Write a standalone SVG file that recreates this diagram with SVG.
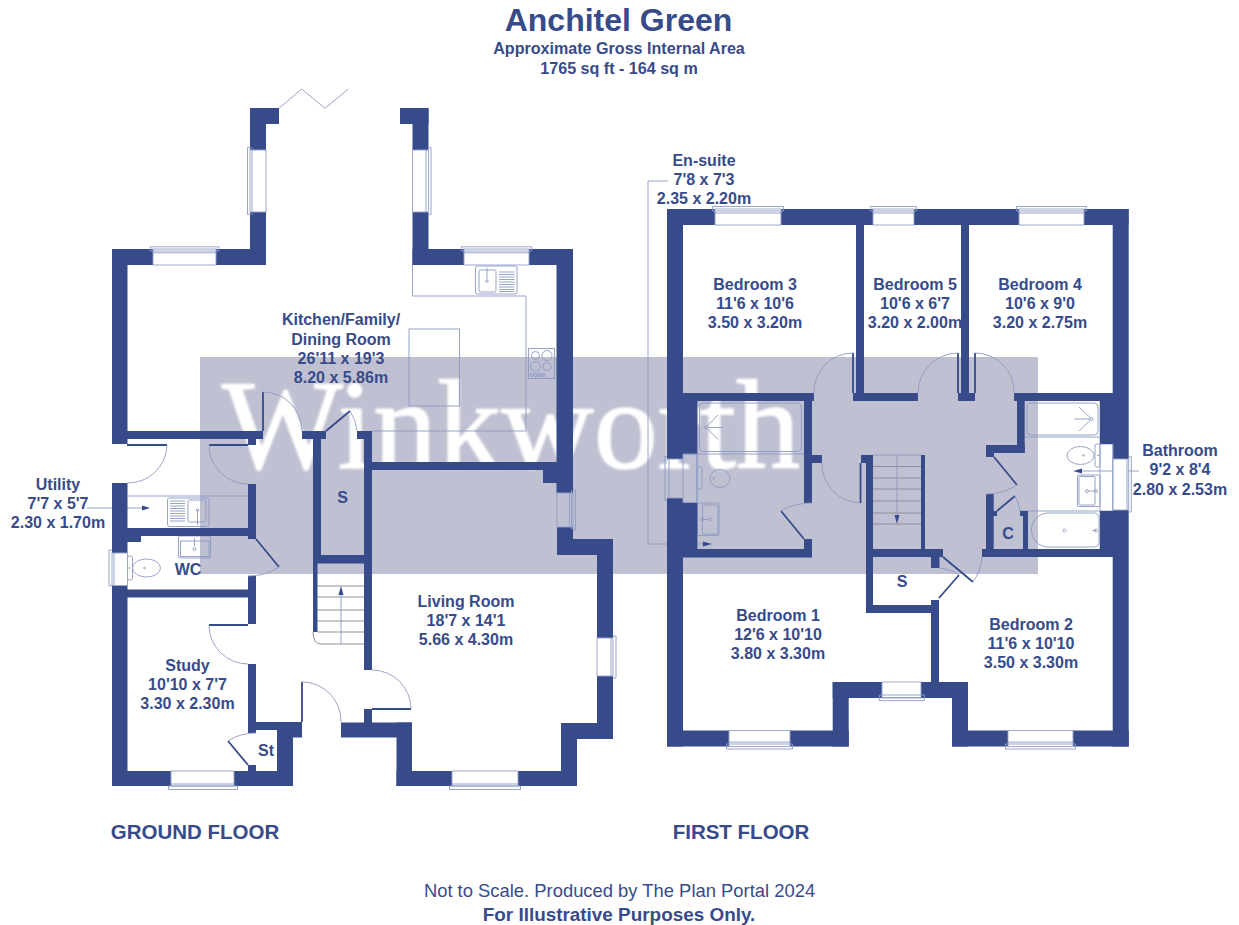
<svg xmlns="http://www.w3.org/2000/svg" width="1239" height="925" viewBox="0 0 1239 925">
<style>
.w{fill:#374b8b}
.wl{fill:#fff;stroke:#93a0c8;stroke-width:.9}
.wn{fill:none;stroke:#93a0c8;stroke-width:.9}
.l{fill:none;stroke:#8d9ac4;stroke-width:.9}
.d{fill:none;stroke:#374b8b;stroke-width:1.8}
.g{fill:none;stroke:#8f8f9a;stroke-width:1}
.a{fill:#374b8b}
text{font-family:"Liberation Sans",Arial,sans-serif;fill:#374b8b;font-weight:700;font-size:16px;text-anchor:middle}
</style>
<defs>
<filter id="bl" x="-5%" y="-5%" width="110%" height="110%"><feGaussianBlur stdDeviation="1.3"/></filter>
</defs>
<rect width="1239" height="925" fill="#fff"/>
<g id="watermark">
<rect x="200" y="357" width="838" height="217" fill="#bfc0d1"/>
<text x="222" y="468" filter="url(#bl)" style="font-family:'Liberation Serif',serif;font-weight:400;font-size:128px;text-anchor:start;fill:#fff;stroke:#fff;stroke-width:1.6">Winkworth</text>
</g>
<g id="ground-floor-fittings">
<path class="l" d="M412.500 265V296H526V431H372"/>
<rect class="l" x="409" y="329" width="50.500" height="77"/>
<g id="kitchen-sink"><rect class="l" x="475.500" y="266" width="41.500" height="28" rx="2"/><rect class="l" x="479" y="270" width="17" height="22" rx="1.500"/><path class="l" d="M499 272h15.500M499 274.500h15.500M499 277h15.500M499 279.500h15.500M499 282h15.500M499 284.500h15.500M499 287h15.500M499 289.500h15.500M499 291.500h15.500M487 268v11"/><circle class="l" cx="487" cy="281" r="1.200"/></g>
<g id="hob"><rect class="l" x="528.500" y="348.500" width="26" height="30"/><circle class="l" cx="535.500" cy="355.500" r="4"/><circle class="l" cx="547" cy="355.500" r="5"/><circle class="l" cx="535.500" cy="366.500" r="5"/><circle class="l" cx="547" cy="366.500" r="4"/><circle class="l" cx="532" cy="375" r="1.500"/><circle class="l" cx="535" cy="375" r="1.500"/><circle class="l" cx="538" cy="375" r="1.500"/><circle class="l" cx="541" cy="375" r="1.500"/><circle class="l" cx="544" cy="375" r="1.500"/></g>
<path class="l" d="M127 496H248"/>
<g id="utility-sink"><rect class="l" x="167.500" y="498" width="41.500" height="28.500" rx="2"/><rect class="l" x="188" y="500" width="18" height="22" rx="1.500"/><path class="l" d="M170 501h15M170 503.500h15M170 506h15M170 508.500h15M170 511h15M170 513.500h15M170 516h15M170 518.500h15M170 521h15M197.500 510v15"/><circle class="l" cx="197.500" cy="510" r="1.200"/></g>
<g id="utility-leader"><path class="l" d="M87 508H142"/><path class="a" d="M142 505.500L150 508L142 510.500z"/></g>
<g id="wc-basin"><rect class="l" x="178.500" y="536" width="32" height="22" rx="1.500"/><rect class="l" x="180.500" y="541" width="28.500" height="15.500"/><path class="l" d="M194.500 538v8"/><circle class="l" cx="194.500" cy="549" r="1.500"/></g>
<g id="wc-toilet"><rect class="l" x="127.500" y="556" width="5" height="24" rx="2"/><ellipse class="l" cx="146.500" cy="568" rx="14" ry="9"/><circle class="l" cx="144.500" cy="568" r=".8"/><circle class="l" cx="129.500" cy="568" r=".6"/></g>
</g>
<g id="stairs-ground">
<path class="g" d="M317.500 586H364M317.500 597H364M317.500 610H364M317.500 621H364M317.500 632H364M321 644H364M313 632Q313 644 321 644"/>
<path class="l" d="M341 644V595"/><path class="a" d="M338.500 595L341 586L343.500 595z"/>
</g>
<g id="ground-floor-walls" class="w">
<rect x="250" y="108" width="29" height="16"/><rect x="250" y="108" width="16" height="42"/>
<rect x="250" y="212" width="16" height="53"/><rect x="216" y="249" width="50" height="16"/>
<rect x="112" y="249" width="41" height="16"/><rect x="112" y="249" width="15.500" height="195"/>
<rect x="400" y="108" width="28.500" height="16"/><rect x="412.500" y="108" width="16" height="42"/>
<rect x="412.500" y="212" width="16" height="53"/><rect x="412.500" y="249" width="51.500" height="16"/>
<rect x="529" y="249" width="44" height="16"/><rect x="556.500" y="249" width="16.500" height="244"/>
<rect x="127" y="431" width="136" height="8"/><rect x="248" y="431" width="8" height="14"/>
<rect x="302" y="431" width="24" height="8"/><rect x="357" y="431" width="15" height="8"/>
<rect x="313" y="431" width="8" height="124"/><rect x="313" y="555" width="4.500" height="77"/>
<rect x="364" y="431" width="8" height="239"/>
<rect x="372" y="462" width="185" height="8"/><rect x="543" y="462" width="30" height="21"/>
<rect x="313" y="555" width="51" height="8.500"/>
<rect x="112" y="483" width="15.500" height="70"/><rect x="112" y="585.500" width="15.500" height="200.500"/>
<rect x="127" y="528" width="121" height="8"/><rect x="127" y="536" width="14" height="6"/>
<rect x="248" y="484" width="8" height="55"/>
<rect x="248" y="576" width="8" height="48"/>
<rect x="127" y="589.500" width="121" height="8"/>
<rect x="248" y="664" width="8" height="66"/><rect x="248" y="722" width="54" height="8"/>
<rect x="293" y="722" width="9" height="15.500"/><rect x="277" y="722" width="16" height="64"/>
<rect x="248" y="730" width="8" height="3"/><rect x="248" y="765" width="8" height="6"/>
<rect x="112" y="771" width="59" height="15"/><rect x="234" y="771" width="59" height="15"/>
<rect x="341" y="722.500" width="71" height="15"/><rect x="364" y="709" width="8" height="14"/>
<rect x="396.500" y="722.500" width="15.500" height="63.500"/>
<rect x="396.500" y="771" width="55.500" height="15"/><rect x="518" y="771" width="59" height="15"/>
<rect x="561" y="723" width="16" height="63"/><rect x="561" y="723" width="52" height="16"/>
<rect x="597" y="676" width="16" height="63"/>
<rect x="597" y="539" width="16" height="99"/><rect x="557" y="527" width="16" height="28"/>
<rect x="557" y="539" width="56" height="16"/>
</g>
<g id="ground-floor-windows">
<rect class="wl" x="250" y="150" width="16" height="62"/><path class="l" d="M251 147.500H247.500V214.500H251M252 147.500V214.500"/>
<rect class="wl" x="412.500" y="150" width="16" height="62"/><path class="l" d="M428.500 147.500H431V214.500H428.500M426 150V212"/>
<rect class="wl" x="153" y="249" width="63" height="16"/><path class="l" d="M150 251V246.800H219V251M150 251H219M153 252.800H216"/>
<rect class="wl" x="464" y="249" width="65" height="16"/><path class="l" d="M461.500 251V246.800H531.700V251M461.500 251H531.700M464 252.800H529"/>
<rect class="wn" x="557" y="493" width="16" height="34"/><path class="l" d="M573 490H575.500V530H573M569.500 493V527M571.500 490V530"/>
<rect class="wl" x="597" y="638" width="16" height="38"/><path class="l" d="M613 636H616V678H613M611 638V676"/>
<rect class="wl" x="452" y="771" width="66" height="15"/><path class="l" d="M449.500 786V789.500H520.500V786M449.500 786H520.500M452 784H518"/>
<rect class="wl" x="171" y="771" width="63" height="15"/><path class="l" d="M168.500 786V789.500H237.500V786M168.500 786H237.500M171 784H234"/>
<rect class="wl" x="112" y="553" width="15.500" height="32.500"/><path class="l" d="M112 550H109V585.700H112M114 553V585.500"/>
<path class="l" d="M279 108.300L301.700 89L325 108.300L348.300 89"/>
</g>
<g id="ground-floor-doors">
<path class="d" d="M263 431V392M326 431L350 411M127 445H167M248 445H209M256 539L279 567M209 625H248M248 765L228 741M302 722V682M372 709H411"/>
<path class="l" d="M263 392A39 39 0 0 1 302 431M350 411Q356 420 357 431M167 445A39 39 0 0 1 127 483M209 445A39 39 0 0 0 248 484M279 567Q266 576 248 576M209 625A39 39 0 0 0 248 664M228 741Q240 733 256 733M302 682A39 39 0 0 1 341 722M372 670A39 39 0 0 1 411 709"/>
</g>
<g id="first-floor-fittings">
<g id="ensuite-bath"><rect class="l" x="699.500" y="403" width="102" height="48.500" rx="4"/><circle class="l" cx="706" cy="427.500" r="1.500"/><path class="l" d="M707 426.500L718 415M708 427.500H723M707 428.500L718 439.500M683 454H804M697 401V549"/></g>
<g id="ensuite-toilet"><rect class="l" x="697" y="467" width="5" height="22" rx="2"/><ellipse class="l" cx="720" cy="478.500" rx="10" ry="9"/><circle class="l" cx="713.700" cy="478.500" r=".8"/></g>
<g id="ensuite-basin"><rect class="l" x="697.500" y="503" width="21.500" height="32.500" rx="1"/><rect class="l" x="702.500" y="505" width="15.500" height="29" rx="1"/><circle class="l" cx="710" cy="519.500" r="1.500"/><circle class="l" cx="702" cy="519.500" r="1.500"/><path class="l" d="M703 519.500h5"/></g>
<path class="l" d="M668 181H648V544H703"/>
<path class="a" d="M703 541.500L712 544L703 546.500z"/>
<g id="bathroom-bath-top"><rect class="l" x="1027" y="403" width="71" height="32" rx="4"/><circle class="l" cx="1091.500" cy="419" r="1.500"/><path class="l" d="M1090.500 418L1079 407M1090 419H1074.500M1090.500 420L1079 431M1024.700 437H1100M1100 401V549"/></g>
<g id="bathroom-toilet"><rect class="l" x="1095" y="444" width="5" height="23" rx="2"/><ellipse class="l" cx="1080.500" cy="455.500" rx="13.500" ry="9"/><circle class="l" cx="1083.500" cy="455.500" r=".8"/><circle class="l" cx="1098" cy="455.500" r=".6"/></g>
<g id="bathroom-basin"><rect class="l" x="1077.500" y="475" width="22.500" height="31.500" rx="1"/><rect class="l" x="1079" y="476.500" width="16" height="28.500" rx="1"/><circle class="l" cx="1087" cy="491" r="1.500"/><circle class="l" cx="1096" cy="491" r="1.500"/><path class="l" d="M1089 491h6"/></g>
<path class="l" d="M1020 511H1100"/>
<g id="bathroom-bath"><path class="l" d="M1048 513H1094A5 5 0 0 1 1099 518V542A5 5 0 0 1 1094 547H1048A16.500 17 0 0 1 1048 513z"/><circle class="l" cx="1064.500" cy="530.500" r="1.500"/><circle class="l" cx="1096" cy="530.500" r="1.500"/><path class="l" d="M1092 530.500h4"/></g>
<path class="l" d="M1139 471H1082"/>
<path class="a" d="M1082 468.500L1073 471L1082 473.500z"/>
<path class="l" d="M1113 444H1100M1113 511H1100"/>
</g>
<g id="stairs-first">
<path class="g" d="M873 466.500H921M873 478H921M873 489H921M873 501H921M873 513H921M873 524H921"/>
<path class="l" d="M873 455H921M897 455V515"/><path class="a" d="M894.500 515L897 524L899.500 515z"/>
</g>
<g id="first-floor-walls" class="w">
<rect x="667" y="209" width="48" height="16"/><rect x="781" y="209" width="92" height="16"/><rect x="914" y="209" width="105" height="16"/><rect x="1084" y="209" width="44.500" height="16"/>
<rect x="667" y="209" width="16" height="250"/><rect x="667" y="498" width="16" height="248.500"/>
<rect x="1112.700" y="209" width="16" height="250"/><rect x="1112.700" y="510" width="16" height="236.500"/>
<rect x="683" y="401" width="14.300" height="53"/><rect x="683" y="503" width="14.300" height="46"/>
<rect x="683" y="393" width="131" height="8"/>
<rect x="856" y="225" width="8" height="168"/><rect x="961" y="225" width="8" height="168"/>
<rect x="853" y="393" width="65" height="8"/><rect x="958" y="393" width="17" height="8"/>
<rect x="804" y="401" width="8" height="102"/><rect x="812" y="455" width="10" height="8"/>
<rect x="683" y="549" width="129" height="8.500"/><rect x="804" y="539" width="8" height="18"/>
<rect x="861" y="455" width="12" height="8"/><rect x="866" y="455" width="7" height="158"/>
<rect x="921" y="455" width="4" height="94"/><rect x="866" y="549" width="77" height="8"/>
<rect x="931" y="557" width="8.500" height="11"/>
<rect x="866" y="605" width="73" height="8"/><rect x="931" y="600" width="8" height="85"/>
<rect x="1014" y="393" width="99" height="8"/>
<rect x="1017" y="401" width="7.700" height="52"/><rect x="986" y="445" width="38.700" height="8"/><rect x="986" y="453" width="8" height="4"/>
<rect x="986" y="494" width="7.700" height="55"/><rect x="982" y="549" width="131" height="8"/>
<rect x="993" y="511" width="4" height="5"/><rect x="1020" y="511" width="8" height="5"/><rect x="1023" y="511" width="5" height="38"/>
<rect x="1100" y="401" width="13" height="43"/><rect x="1100" y="511" width="13" height="38"/>
<rect x="667" y="730.500" width="62" height="16"/><rect x="790" y="730.500" width="58.700" height="16"/>
<rect x="832.700" y="682" width="16" height="64.500"/><rect x="832.700" y="682" width="49.300" height="16"/><rect x="921" y="682" width="47" height="16"/>
<rect x="952" y="682" width="16" height="64.500"/><rect x="952" y="730.500" width="56" height="16"/><rect x="1073" y="730.500" width="55.700" height="16"/>
</g>
<g id="first-floor-windows">
<rect class="wl" x="715" y="209" width="66" height="16"/><path class="l" d="M712.500 211V206.500H783.500V211M712.500 211H783.500M715 213H781"/>
<rect class="wl" x="873" y="209" width="41" height="16"/><path class="l" d="M870.500 211V206.500H916.500V211M870.500 211H916.500M873 213H914"/>
<rect class="wl" x="1019" y="209" width="65" height="16"/><path class="l" d="M1016.500 211V206.500H1086.500V211M1016.500 211H1086.500M1019 213H1084"/>
<rect class="wl" x="729" y="730.500" width="61" height="16"/><path class="l" d="M726.500 744V749H792.500V744M726.500 744H792.500M729 742H790"/>
<rect class="wl" x="882" y="682" width="39" height="16"/><path class="l" d="M879.300 695V700.700H924.300V695M879.300 695H924.300M882 697.500H921"/>
<rect class="wl" x="1008" y="730.500" width="65" height="16"/><path class="l" d="M1005.500 744V749H1075.500V744M1005.500 744H1075.500M1008 742H1073"/>
<path class="l" d="M667 456.500H665V500.500H667M669 459V498M667 459H683M667 498H683M683 454H697V502.500H683M683 454V502.500"/>
<rect class="wl" x="1112.700" y="459" width="16" height="51"/><path class="l" d="M1128.700 456.700H1131.300V512H1128.700M1127 459V510M1113 444V511"/>
</g>
<g id="first-floor-doors">
<path class="d" d="M853 393V353M958 393V353M975 393V353M781 511L804 539M860.500 463V503M994 457L1017 485M997 511L1015 496M943 557L973 582M959 575L939 598"/>
<path class="l" d="M853 353A39 39 0 0 0 814 393M958 353A40 40 0 0 0 918 393M975 353A39 39 0 0 1 1014 393M781 511Q794 503 812 503M822 463A39 39 0 0 0 860 503M1017 485Q1003 494 986 494M1015 496Q1019 503 1020 511M973 582Q981 571 982 557M939 568Q951 569 959 575"/>
</g>
<g id="titles">
<text x="618.500" y="31" style="font-size:32px">Anchitel Green</text>
<text x="619" y="54" style="font-size:16.100px">Approximate Gross Internal Area</text>
<text x="619" y="74" style="font-size:16.100px">1765 sq ft - 164 sq m</text>
<text x="195" y="839" style="font-size:20.500px">GROUND FLOOR</text>
<text x="741" y="839" style="font-size:20.500px">FIRST FLOOR</text>
<text x="619.500" y="897" style="font-size:18.400px;font-weight:400">Not to Scale. Produced by The Plan Portal 2024</text>
<text x="619" y="920.500" style="font-size:18.900px">For Illustrative Purposes Only.</text>
</g>
<g id="labels">
<text x="341" y="325">Kitchen/Family/</text><text x="341" y="344.500">Dining Room</text><text x="341" y="363.500">26'11 x 19'3</text><text x="341" y="382.700">8.20 x 5.86m</text>
<text x="58" y="490">Utility</text><text x="58" y="508.500">7'7 x 5'7</text><text x="58" y="527.500">2.30 x 1.70m</text>
<text x="187.500" y="671">Study</text><text x="187.500" y="690">10'10 x 7'7</text><text x="187.500" y="709">3.30 x 2.30m</text>
<text x="188" y="575">WC</text><text x="266" y="756">St</text><text x="342.500" y="503">S</text>
<text x="466" y="607">Living Room</text><text x="466" y="626">18'7 x 14'1</text><text x="466" y="645">5.66 x 4.30m</text>
<text x="755" y="289.500">Bedroom 3</text><text x="755" y="309">11'6 x 10'6</text><text x="755" y="328">3.50 x 3.20m</text>
<text x="915" y="289.500">Bedroom 5</text><text x="915" y="309">10'6 x 6'7</text><text x="915" y="328">3.20 x 2.00m</text>
<text x="1040" y="289.500">Bedroom 4</text><text x="1040" y="309">10'6 x 9'0</text><text x="1040" y="328">3.20 x 2.75m</text>
<text x="778" y="621">Bedroom 1</text><text x="778" y="640">12'6 x 10'10</text><text x="778" y="659">3.80 x 3.30m</text>
<text x="1031" y="630">Bedroom 2</text><text x="1031" y="649">11'6 x 10'10</text><text x="1031" y="668">3.50 x 3.30m</text>
<text x="902" y="587">S</text><text x="1008" y="538.500">C</text>
<text x="704" y="166">En-suite</text><text x="704" y="185">7'8 x 7'3</text><text x="704" y="204">2.35 x 2.20m</text>
<text x="1180" y="456">Bathroom</text><text x="1180" y="475">9'2 x 8'4</text><text x="1180" y="495">2.80 x 2.53m</text>
</g>
</svg>
